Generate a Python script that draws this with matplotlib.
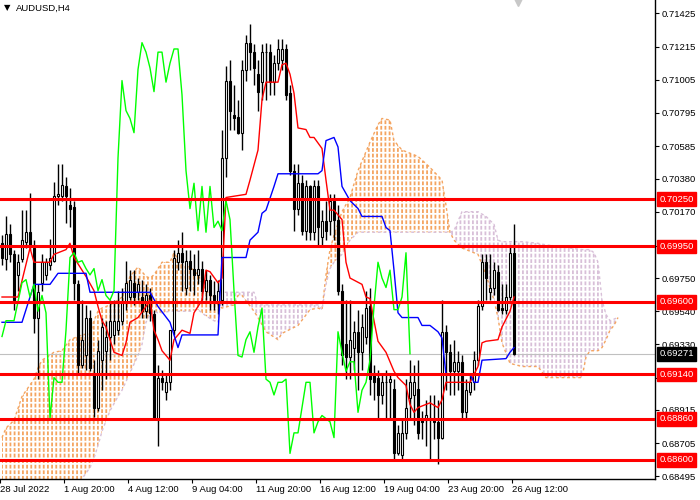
import numpy as np
import matplotlib
matplotlib.use("Agg")
import matplotlib.pyplot as plt

plt.rcParams['font.family'] = ['Liberation Sans', 'DejaVu Sans']

# H4 candles, oldest first
opens = [
    0.6997, 0.6987, 0.7003, 0.6990, 0.6977, 0.6987, 0.6998, 0.7004, 0.6994, 0.6950,
    0.6972, 0.6977, 0.6983, 0.6986, 0.7027, 0.7027, 0.7033, 0.7021, 0.7020, 0.6971,
    0.6920, 0.6926, 0.6950, 0.6915, 0.6893, 0.6923, 0.6929, 0.6938, 0.6939, 0.6942,
    0.6948, 0.6959, 0.6963, 0.6972, 0.6966, 0.6963, 0.6954, 0.6964, 0.6952, 0.6886,
    0.6912, 0.6903, 0.6909, 0.6942, 0.6985, 0.6991, 0.6969, 0.6986, 0.6981, 0.6977,
    0.6981, 0.6967, 0.6974, 0.6964, 0.6959, 0.6961, 0.7051, 0.7100, 0.7078, 0.7077,
    0.7067, 0.7107, 0.7124, 0.7118, 0.7104, 0.7099, 0.7118, 0.7118, 0.7099, 0.7111,
    0.7113, 0.7120, 0.7092, 0.7043, 0.7019, 0.7035, 0.7005, 0.7033, 0.7004, 0.7033,
    0.7001, 0.7011, 0.7011, 0.7024, 0.7012, 0.6967, 0.6933, 0.6925, 0.6931, 0.6941,
    0.6928, 0.6938, 0.6957, 0.6915, 0.6912, 0.6901, 0.6909, 0.6909, 0.6905, 0.6864,
    0.6863, 0.6877, 0.6899, 0.6901, 0.6905, 0.6885, 0.6885, 0.6886, 0.6886, 0.6884,
    0.6874, 0.6941, 0.6928, 0.6916, 0.6916, 0.6922, 0.6890, 0.6903, 0.6909, 0.6923,
    0.6957, 0.6985, 0.6966, 0.6969, 0.6979, 0.6956, 0.6955, 0.6963, 0.6991,
]
highs = [
    0.7002, 0.7014, 0.7009, 0.6993, 0.6990, 0.7018, 0.7018, 0.7029, 0.6999, 0.6971,
    0.6990, 0.6988, 0.7000, 0.7036, 0.7047, 0.7047, 0.7039, 0.7032, 0.7024, 0.6974,
    0.6961, 0.6958, 0.6955, 0.6923, 0.6936, 0.6950, 0.6948, 0.6961, 0.6961, 0.6967,
    0.6969, 0.6986, 0.6980, 0.6980, 0.6975, 0.6974, 0.6971, 0.6969, 0.6955, 0.6920,
    0.6917, 0.6914, 0.6942, 0.6993, 0.6999, 0.7004, 0.6993, 0.6993, 0.6990, 0.6993,
    0.6986, 0.6980, 0.6977, 0.6973, 0.6974, 0.7069, 0.7109, 0.7113, 0.7097, 0.7088,
    0.7113, 0.7129, 0.7136, 0.7123, 0.7113, 0.7123, 0.7124, 0.7123, 0.7116, 0.7126,
    0.7126, 0.7123, 0.7097, 0.7047, 0.7047, 0.7040, 0.7037, 0.7034, 0.7037, 0.7037,
    0.7018, 0.7024, 0.7028, 0.7028, 0.7021, 0.6971, 0.6961, 0.6961, 0.6948, 0.6955,
    0.6952, 0.6967, 0.6969, 0.6920, 0.6917, 0.6914, 0.6917, 0.6914, 0.6911, 0.6882,
    0.6885, 0.6911, 0.6923, 0.6920, 0.6923, 0.6891, 0.6898, 0.6901, 0.6901, 0.6898,
    0.6961, 0.6945, 0.6933, 0.6936, 0.6929, 0.6926, 0.6911, 0.6914, 0.6929, 0.6961,
    0.6990, 0.6990, 0.6990, 0.6985, 0.6983, 0.6971, 0.6971, 0.6996, 0.7009,
]
lows = [
    0.6983, 0.6980, 0.6985, 0.6955, 0.6967, 0.6985, 0.6994, 0.6993, 0.6940, 0.6911,
    0.6967, 0.6974, 0.6980, 0.6985, 0.7021, 0.7024, 0.7010, 0.7007, 0.6961, 0.6914,
    0.6918, 0.6917, 0.6916, 0.6887, 0.6891, 0.6904, 0.6911, 0.6923, 0.6933, 0.6939,
    0.6945, 0.6955, 0.6961, 0.6958, 0.6961, 0.6950, 0.6950, 0.6948, 0.6885, 0.6869,
    0.6904, 0.6898, 0.6904, 0.6939, 0.6980, 0.6967, 0.6964, 0.6967, 0.6964, 0.6971,
    0.6961, 0.6961, 0.6955, 0.6955, 0.6952, 0.6958, 0.7039, 0.7069, 0.7069, 0.7066,
    0.7056, 0.7100, 0.7107, 0.7097, 0.7081, 0.7088, 0.7088, 0.7091, 0.7091, 0.7107,
    0.7107, 0.7088, 0.7040, 0.7005, 0.7015, 0.7002, 0.6999, 0.6999, 0.6999, 0.6996,
    0.6996, 0.6999, 0.7002, 0.6999, 0.6964, 0.6920, 0.6911, 0.6911, 0.6917, 0.6904,
    0.6917, 0.6933, 0.6901, 0.6898, 0.6885, 0.6895, 0.6885, 0.6885, 0.6859, 0.6863,
    0.6860, 0.6873, 0.6885, 0.6882, 0.6873, 0.6873, 0.6869, 0.6860, 0.6873, 0.6857,
    0.6873, 0.6904, 0.6901, 0.6901, 0.6904, 0.6885, 0.6885, 0.6901, 0.6904, 0.6920,
    0.6955, 0.6961, 0.6961, 0.6964, 0.6954, 0.6952, 0.6952, 0.6961, 0.6926,
]
closes = [
    0.6988, 0.7003, 0.6990, 0.6961, 0.6985, 0.6999, 0.7004, 0.6996, 0.6950, 0.6966,
    0.6985, 0.6985, 0.6988, 0.7027, 0.7028, 0.7034, 0.7027, 0.7019, 0.6972, 0.6920,
    0.6936, 0.6950, 0.6918, 0.6893, 0.6929, 0.6944, 0.6938, 0.6948, 0.6948, 0.6948,
    0.6960, 0.6972, 0.6974, 0.6963, 0.6971, 0.6954, 0.6964, 0.6953, 0.6886, 0.6912,
    0.6909, 0.6909, 0.6942, 0.6988, 0.6991, 0.6985, 0.6986, 0.6981, 0.6977, 0.6981,
    0.6967, 0.6974, 0.6964, 0.6961, 0.6967, 0.7051, 0.7100, 0.7081, 0.7076, 0.7067,
    0.7107, 0.7124, 0.7118, 0.7108, 0.7093, 0.7118, 0.7118, 0.7099, 0.7111, 0.7120,
    0.7120, 0.7091, 0.7043, 0.7019, 0.7035, 0.7005, 0.7033, 0.7004, 0.7033, 0.7007,
    0.7011, 0.7005, 0.7024, 0.7012, 0.6967, 0.6926, 0.6925, 0.6936, 0.6941, 0.6928,
    0.6944, 0.6956, 0.6911, 0.6909, 0.6901, 0.6909, 0.6909, 0.6911, 0.6864, 0.6877,
    0.6877, 0.6893, 0.6909, 0.6909, 0.6877, 0.6884, 0.6888, 0.6886, 0.6884, 0.6874,
    0.6941, 0.6928, 0.6916, 0.6922, 0.6922, 0.6890, 0.6904, 0.6909, 0.6923, 0.6957,
    0.6985, 0.6975, 0.6969, 0.6980, 0.6955, 0.6955, 0.6963, 0.6991, 0.69271,
]

# Ichimoku lines (bar index, price)
tenkan_bars = [0, 4, 7, 8, 12, 13, 16, 17, 18, 21,
               23, 24, 25, 26, 28, 30, 31, 32, 34, 36,
               37, 38, 39, 40, 42, 43, 45, 47, 48, 50,
               51, 52, 54, 55, 56, 61, 62, 64, 65, 66,
               69, 70, 71, 72, 73, 74, 76, 77, 78, 80,
               81, 82, 83, 85, 86, 87, 90, 91, 92, 93,
               94, 96, 98, 99, 101, 102, 103, 104, 107, 109,
               110, 111, 117, 119, 120, 121, 124, 125, 127, 128]
tenkan_vals = [0.6963, 0.6963, 0.6994, 0.6985, 0.6985, 0.6990, 0.6993, 0.6997, 0.6988, 0.6976,
               0.6967, 0.6957, 0.6948, 0.6944, 0.6928, 0.6926, 0.6934, 0.6947, 0.6950, 0.6957,
               0.6961, 0.6942, 0.6936, 0.6929, 0.6923, 0.6936, 0.6942, 0.6940, 0.6953, 0.6961,
               0.6980, 0.6979, 0.6972, 0.6975, 0.7026, 0.7028, 0.7037, 0.7056, 0.7088, 0.7099,
               0.7099, 0.7110, 0.7111, 0.7104, 0.7092, 0.7070, 0.7069, 0.7064, 0.7064, 0.7057,
               0.7037, 0.7018, 0.7018, 0.7012, 0.6985, 0.6975, 0.6971, 0.6963, 0.6962, 0.6948,
               0.6935, 0.6928, 0.6916, 0.6912, 0.6907, 0.6895, 0.6890, 0.6893, 0.6896, 0.6893,
               0.6898, 0.6909, 0.6909, 0.6919, 0.6934, 0.6935, 0.6936, 0.6944, 0.6954, 0.6963]

kijun_bars = [0, 5, 8, 12, 14, 21, 22, 37, 39, 42,
              44, 45, 54, 55, 61, 62, 64, 65, 66, 68,
              69, 79, 80, 81, 83, 84, 85, 87, 89, 90,
              95, 96, 97, 98, 99, 100, 104, 105, 107, 109,
              110, 111, 117, 118, 119, 120, 126, 127, 128]
kijun_vals = [0.6947, 0.6947, 0.6971, 0.6971, 0.6978, 0.6978, 0.6966, 0.6966, 0.6957, 0.6947,
              0.6931, 0.6939, 0.6939, 0.6988, 0.6988, 0.6999, 0.7004, 0.7016, 0.7018, 0.7033,
              0.7041, 0.7041, 0.7043, 0.7062, 0.7064, 0.7058, 0.7033, 0.7024, 0.7019, 0.7014,
              0.7014, 0.7007, 0.7005, 0.6980, 0.6953, 0.6950, 0.6950, 0.6945, 0.6945, 0.6941,
              0.6937, 0.6914, 0.6914, 0.6909, 0.6909, 0.6923, 0.6924, 0.6928, 0.6931]

cloud_bars = [0, 1, 3, 5, 8, 9, 10, 13, 15, 17,
              19, 20, 22, 23, 24, 25, 27, 29, 30, 32,
              34, 35, 36, 37, 38, 39, 40, 42, 43, 45,
              47, 49, 51, 53, 54, 55, 58, 59, 60, 63,
              64, 66, 69, 70, 74, 77, 79, 80, 81, 82,
              83, 85, 87, 89, 91, 92, 94, 95, 97, 98,
              100, 104, 107, 110, 111, 112, 113, 115, 119, 121,
              123, 124, 125, 127, 130, 134, 136, 145, 146, 147,
              148, 149, 150, 151, 152, 153, 154]
span_a = [0.6874, 0.6880, 0.6885, 0.6900, 0.6911, 0.6918, 0.6923, 0.6928, 0.6929, 0.6936,
          0.6938, 0.6939, 0.6940, 0.6948, 0.6954, 0.6956, 0.6958, 0.6961, 0.6963, 0.6976,
          0.6982, 0.6979, 0.6976, 0.6975, 0.6977, 0.6981, 0.6985, 0.6985, 0.6991, 0.6983,
          0.6982, 0.6977, 0.6967, 0.6962, 0.6958, 0.6956, 0.6958, 0.6964, 0.6964, 0.6954,
          0.6950, 0.6941, 0.6936, 0.6940, 0.6945, 0.6955, 0.6956, 0.6955, 0.6977, 0.6993,
          0.7002, 0.7017, 0.7026, 0.7043, 0.7055, 0.7061, 0.7072, 0.7076, 0.7075, 0.7062,
          0.7056, 0.7052, 0.7045, 0.7037, 0.7021, 0.7004, 0.6999, 0.6994, 0.6990, 0.6977,
          0.6961, 0.6950, 0.6934, 0.6921, 0.6919, 0.6919, 0.6912, 0.6912, 0.6925, 0.6929,
          0.6929, 0.6929, 0.6931, 0.6936, 0.6942, 0.6945, 0.6950]
span_b = [0.6822, 0.6822, 0.6822, 0.6822, 0.6822, 0.6822, 0.6823, 0.6828, 0.6835, 0.6840,
          0.6845, 0.6848, 0.6855, 0.6861, 0.6869, 0.6878, 0.6891, 0.6900, 0.6904, 0.6915,
          0.6926, 0.6933, 0.6947, 0.6952, 0.6954, 0.6953, 0.6953, 0.6954, 0.6954, 0.6954,
          0.6954, 0.6955, 0.6951, 0.6948, 0.6947, 0.6966, 0.6966, 0.6966, 0.6966, 0.6966,
          0.6958, 0.6958, 0.6958, 0.6958, 0.6958, 0.6958, 0.6958, 0.6955, 0.6971, 0.6981,
          0.6985, 0.6990, 0.6999, 0.7004, 0.7004, 0.7004, 0.7004, 0.7004, 0.7004, 0.7004,
          0.7004, 0.7004, 0.7004, 0.7004, 0.7004, 0.7004, 0.7005, 0.7017, 0.7017, 0.7014,
          0.7009, 0.6999, 0.6998, 0.6998, 0.6998, 0.6997, 0.6996, 0.6993, 0.6993, 0.6993,
          0.6991, 0.6985, 0.6961, 0.6952, 0.6948, 0.6949, 0.6950]

levels = [0.7025, 0.6995, 0.6960, 0.6914, 0.6886, 0.6860]
price_ticks = [0.71425, 0.71215, 0.71005, 0.70795, 0.70585, 0.70380, 0.70170, 0.69950,
               0.69750, 0.69540, 0.69330, 0.69120, 0.68915, 0.68705, 0.68495]
date_labels = ["28 Jul 2022", "1 Aug 20:00", "4 Aug 12:00", "9 Aug 04:00", "11 Aug 20:00",
               "16 Aug 12:00", "19 Aug 04:00", "23 Aug 20:00", "26 Aug 12:00"]
date_bars = [-0.5, 15.5, 31.5, 47.5, 63.5, 79.5, 95.5, 111.5, 127.5]
chikou_shift = 26

fig = plt.figure(figsize=(7, 5), dpi=100)
ax = fig.add_axes([0, 21 / 500, 655 / 700, 479 / 500])
ax.set_xlim(-0.5, 163.25)
ax.set_ylim(0.68478, 0.7151)

# cloud: vertical dashed hatch between the spans
cb = np.array(cloud_bars)
sa = np.array(span_a)
sb = np.array(span_b)
plt.rcParams['hatch.linewidth'] = 1.3
ax.fill_between(cb, sa, sb, where=sa >= sb, interpolate=True, facecolor='none',
                edgecolor='#f4a460', hatch='||||', linewidth=0, zorder=1)
ax.fill_between(cb, sa, sb, where=sa < sb, interpolate=True, facecolor='none',
                edgecolor='#d8bfd8', hatch='||||', linewidth=0, zorder=1)
ax.fill_between(cb, sa, sb, facecolor='none', edgecolor='white', hatch='---',
                linewidth=0, zorder=1.2)
ax.plot(cb, sa, color='#f4a460', lw=1, ls=(0, (2, 2)), zorder=1.5)
ax.plot(cb, sb, color='#d8bfd8', lw=1, ls=(0, (2, 2)), zorder=1.5)

# last price line
ax.axhline(closes[-1], color='#c0c0c0', lw=0.8, zorder=1.6)

# candles
x = np.arange(len(closes))
o = np.array(opens)
h = np.array(highs)
l = np.array(lows)
c = np.array(closes)
ax.vlines(x, l, h, color='black', lw=1, zorder=3)
body_lo = np.minimum(o, c)
body_h = np.maximum(np.abs(c - o), 0.00002)
colors = np.where(c >= o, 'white', 'black')
ax.bar(x, body_h, bottom=body_lo, width=0.6, color=colors, edgecolor='black',
       linewidth=0.8, zorder=3.1)

# ichimoku lines
ax.plot(tenkan_bars, tenkan_vals, color='#ff0000', lw=1, zorder=4)
ax.plot(kijun_bars, kijun_vals, color='#0000ff', lw=1, zorder=4)
ax.plot(x[:-chikou_shift], c[chikou_shift:], color='#00ff00', lw=1, zorder=4)

# horizontal levels
for lv in levels:
    ax.axhline(lv, color='#ff0000', lw=2.2, zorder=5)

# frame and axes
for side in ['top', 'left']:
    ax.spines[side].set_visible(False)
for side in ['right', 'bottom']:
    ax.spines[side].set_color('black')
    ax.spines[side].set_linewidth(1)

# the 0.69950 scale label sits fully under the red level box, so it is left blank
ax.yaxis.tick_right()
ax.set_yticks(price_ticks)
ax.set_yticklabels(['' if p == 0.69950 else f'{p:.5f}' for p in price_ticks])
ax.tick_params(axis='y', length=3, pad=2, labelsize=6.8, colors='black')
ax.set_xticks(date_bars)
ax.set_xticklabels(date_labels)
ax.tick_params(axis='x', length=3, pad=1, labelsize=6.8, colors='black')
for lbl in ax.get_xticklabels():
    lbl.set_ha('left')

# price boxes on the scale
for lv in levels:
    ax.annotate(f'{lv:.5f}', xy=(1, lv), xycoords=('axes fraction', 'data'),
                xytext=(3, 0), textcoords='offset points', va='center', ha='left',
                fontsize=6.8, color='white', annotation_clip=False, zorder=10,
                bbox=dict(boxstyle='square,pad=0.25', fc='#ff0000', ec='#ff0000'))
ax.annotate(f'{closes[-1]:.5f}', xy=(1, closes[-1]), xycoords=('axes fraction', 'data'),
            xytext=(3, 0), textcoords='offset points', va='center', ha='left',
            fontsize=6.8, color='white', annotation_clip=False, zorder=10,
            bbox=dict(boxstyle='square,pad=0.25', fc='black', ec='black'))

# chart shift marker and title
ax.plot([129], [0.7151], marker='v', ms=8, color='#c8c8c8', clip_on=False, zorder=6)
fig.text(4 / 700, 1 - 8 / 500, '\u25bc', fontsize=6, family='DejaVu Sans', va='center')
fig.text(16 / 700, 1 - 8 / 500, 'AUDUSD,H4', fontsize=6.8, va='center')

fig.savefig('out.png', dpi=100)
